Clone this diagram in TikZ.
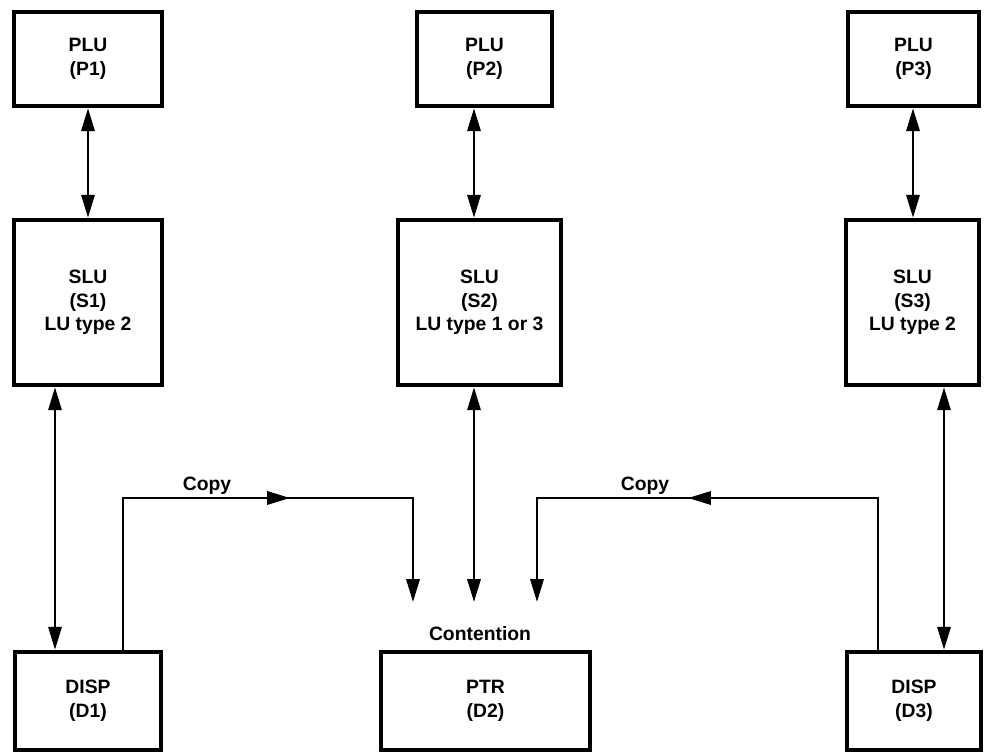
\documentclass[tikz,border=0pt]{standalone}
\usepackage{fontspec}
\setmainfont{Liberation Sans}
\usetikzlibrary{arrows.meta,positioning,calc}

\begin{document}
\begin{tikzpicture}[
  x=0.02cm, y=-0.02cm,
  every node/.style={font=\bfseries\fontsize{11}{13.5}\selectfont},
  lubox/.style={draw, line width=2.6pt, align=center, inner sep=0pt},
  oneway/.style={line width=1.5pt, -{Triangle[length=13pt,width=7.5pt]}},
  twoway/.style={line width=1.5pt, {Triangle[length=13pt,width=7.5pt]}-{Triangle[length=13pt,width=7.5pt]}},
]

\useasboundingbox (0,0) rectangle (991,754);

%% ── Column positions of the connectors (px) ──────────────────────────────
\coordinate (a1) at (55,0);    % S1 <-> D1
\coordinate (k1) at (123,0);   % copy out of D1
\coordinate (j1) at (413,0);   % copy into PTR
\coordinate (a2) at (474,0);   % P2/S2/PTR
\coordinate (j3) at (537,0);   % copy into PTR
\coordinate (k3) at (878,0);   % copy out of D3
\coordinate (b3) at (913,0);   % P3 <-> S3
\coordinate (a3) at (944,0);   % S3 <-> D3

%% ── Row 1: primary LUs ──────────────────────────────────────────────────
\node[lubox, minimum width=2.96cm, minimum height=1.88cm] (p1) at (88,59)    {PLU\\(P1)};
\node[lubox, minimum width=2.70cm, minimum height=1.88cm] (p2) at (484.5,59) {PLU\\(P2)};
\node[lubox, minimum width=2.62cm, minimum height=1.88cm] (p3) at (913.5,59) {PLU\\(P3)};

%% ── Row 2: secondary LUs ────────────────────────────────────────────────
\node[lubox, minimum width=2.96cm, minimum height=3.30cm] (s1) at (88,302.5)    {SLU\\(S1)\\LU type 2};
\node[lubox, minimum width=3.26cm, minimum height=3.30cm] (s2) at (479.5,302.5) {SLU\\(S2)\\LU type 1 or 3};
\node[lubox, minimum width=2.66cm, minimum height=3.30cm] (s3) at (912.5,302.5) {SLU\\(S3)\\LU type 2};

%% ── Row 3: devices ──────────────────────────────────────────────────────
\node[lubox, minimum width=2.92cm, minimum height=1.96cm] (d1) at (88,701)    {DISP\\(D1)};
\node[lubox, minimum width=4.18cm, minimum height=1.96cm] (d2) at (485.5,701) {PTR\\(D2)};
\node[lubox, minimum width=2.68cm, minimum height=1.96cm] (d3) at (914,701)   {DISP\\(D3)};

\node[anchor=base, inner sep=0pt, outer ysep=0.48cm] (ctn) at (480,640) {Contention};

%% ── Sessions ────────────────────────────────────────────────────────────
\draw[twoway] (p1) -- (s1);
\draw[twoway] (p2.south -| a2) -- (s2.north -| a2);
\draw[twoway] (p3.south -| b3) -- (s3.north -| b3);

\draw[twoway] (s1.south -| a1) -- (d1.north -| a1);
\draw[twoway] (s2.south -| a2) -- (ctn.north -| a2);
\draw[twoway] (s3.south -| a3) -- (d3.north -| a3);

%% ── Copy paths ──────────────────────────────────────────────────────────
\coordinate (t1) at (290,498);
\coordinate (t3) at (688,498);

\draw[oneway] (d1.north -| k1) |- (t1);
\draw[oneway] ($(t1)+(-12,0)$) -| (ctn.north -| j1);
\node[anchor=base] (cp1) at (207,490) {Copy};

\draw[oneway] (d3.north -| k3) |- (t3);
\draw[oneway] ($(t3)+(12,0)$) -| (ctn.north -| j3);
\node[anchor=base] (cp3) at (645,490) {Copy};

\end{tikzpicture}
\end{document}
